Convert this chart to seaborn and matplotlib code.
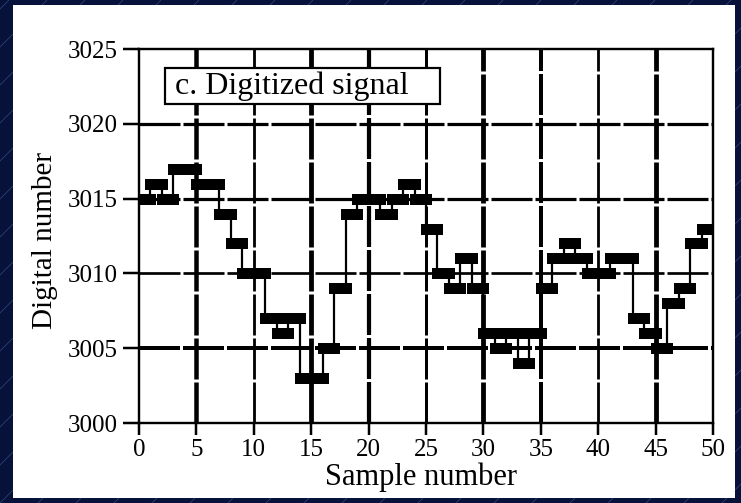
import numpy as np
import matplotlib
matplotlib.use("Agg")
import matplotlib.pyplot as plt
import seaborn as sns
from matplotlib.patches import Rectangle
from matplotlib.lines import Line2D

# ---------------- data ----------------
sample = np.arange(50)
digital = [3015, 3016, 3015, 3017, 3017, 3016, 3016, 3014, 3012, 3010,
           3010, 3007, 3006, 3007, 3003, 3003, 3005, 3009, 3014, 3015,
           3015, 3014, 3015, 3016, 3015, 3013, 3010, 3009, 3011, 3009,
           3006, 3005, 3006, 3004, 3006, 3009, 3011, 3012, 3011, 3010,
           3010, 3011, 3011, 3007, 3006, 3005, 3008, 3009, 3012, 3013]
x_ticks = [0, 5, 10, 15, 20, 25, 30, 35, 40, 45, 50]
y_ticks = [3000, 3005, 3010, 3015, 3020, 3025]
panel_title = "c. Digitized signal"
x_label = "Sample number"
y_label = "Digital number"

# ---------------- style ----------------
W, H, DPI = 741, 503, 100
PX = 72 / DPI  # points per pixel

sns.set_style("ticks")
plt.rcParams["font.family"] = ["Liberation Serif", "DejaVu Serif"]
plt.rcParams["lines.scale_dashes"] = False

fig = plt.figure(figsize=(W / DPI, H / DPI), dpi=DPI, facecolor="#06123a")

# faint diagonal slide pattern
for k in range(-20, 35):
    x0 = k * 38
    fig.add_artist(Line2D([x0 / W, (x0 + H) / W], [0, 1], transform=fig.transFigure,
                          color="#2e3f74", lw=0.6, zorder=0.1))

# white panel
fig.add_artist(Rectangle((13 / W, 1 - 498 / H), (735 - 13) / W, (498 - 5) / H,
                         transform=fig.transFigure, facecolor="white",
                         edgecolor="none", zorder=0.2))

ax = fig.add_axes([139 / W, 1 - 423 / H, 574 / W, 374 / H])
ax.set_zorder(5)
ax.set_facecolor("white")

# grid lines (dashed, varying weight like the reference)
vw = {5: 4.5, 10: 2.8, 15: 4.8, 20: 4.2, 25: 3.0, 30: 4.8, 35: 4.0, 40: 2.8, 45: 4.8}
for gx in x_ticks[1:-1]:
    ax.axvline(gx, color="black", lw=vw[gx] * PX, dashes=(41 * PX, 3 * PX), zorder=1)
hw = {3005: 4.0, 3010: 2.7, 3015: 3.2, 3020: 3.2}
for gy in y_ticks[1:-1]:
    ax.axhline(gy, color="black", lw=hw[gy] * PX, dashes=(41 * PX, 3 * PX), zorder=1)

# signal: thin step connectors plus thick sample bars
sns.lineplot(x=sample, y=digital, drawstyle="steps-post", color="black",
             lw=2.2 * PX, estimator=None, ax=ax, zorder=3)
bars = ax.hlines(digital, sample, sample + 1, colors="black", lw=11 * PX, zorder=4)
bars.set_capstyle("projecting")

ax.set_xlim(0, 50)
ax.set_ylim(3000, 3025)
ax.set_xticks(x_ticks)
ax.set_yticks(y_ticks)
ax.tick_params(axis="x", direction="out", length=12 * PX, width=2.5 * PX, pad=3,
               labelsize=18, colors="black")
ax.tick_params(axis="y", direction="out", length=16 * PX, width=2.5 * PX, pad=4,
               labelsize=18, colors="black")
for sp in ax.spines.values():
    sp.set_visible(True)
    sp.set_linewidth(2.4 * PX)
    sp.set_color("black")

ax.set_xlabel(x_label, fontsize=22, color="black")
ax.xaxis.set_label_coords(0.491, -0.106)
ax.set_ylabel(y_label, fontsize=21, color="black")
ax.yaxis.set_label_coords(-0.141, 0.489)

# panel caption box
ax.add_patch(Rectangle((0.0453, 0.853), 0.479, 0.0963, transform=ax.transAxes,
                       facecolor="white", edgecolor="black", lw=2.2 * PX, zorder=6))
ax.text(0.0627, 0.901, panel_title, transform=ax.transAxes, fontsize=23,
        ha="left", va="center", color="black", zorder=7)

fig.savefig("out.png", dpi=DPI, facecolor=fig.get_facecolor())
